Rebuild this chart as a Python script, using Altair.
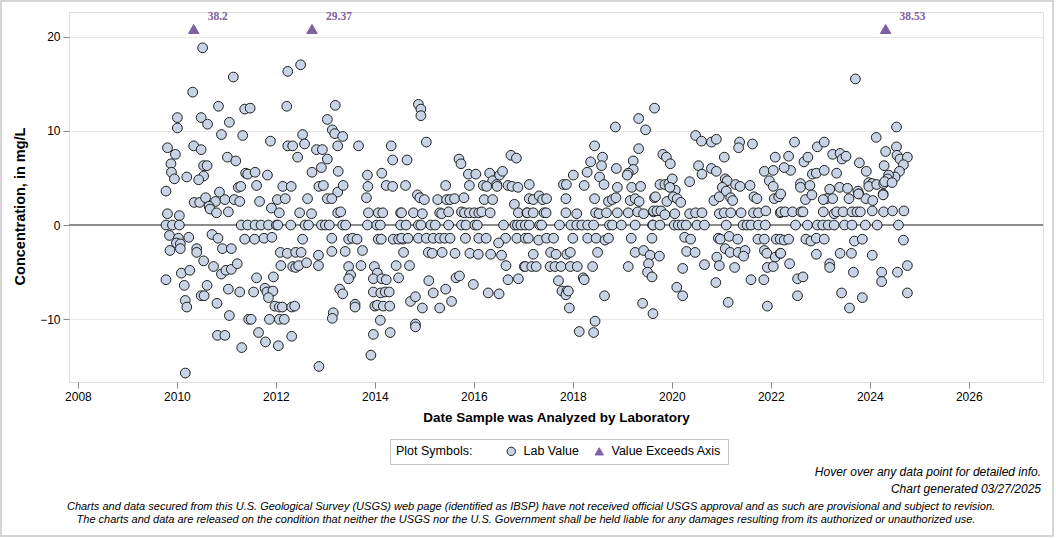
import altair as alt
import pandas as pd

# Lab results: [decimal year analyzed, concentration in mg/L]
LAB_2009_2011 = [
    [2010.52, 18.8], [2011.14, 15.7], [2010.32, 14.1], [2010.84, 12.6], [2011.37, 12.3], [2011.48, 12.4],
    [2010.01, 11.4], [2010.01, 10.3], [2010.49, 11.4], [2010.62, 10.7], [2011.06, 10.9], [2010.90, 9.6],
    [2011.33, 9.5], [2011.89, 8.9], [2009.81, 8.2], [2009.97, 7.5], [2010.34, 8.4], [2010.49, 8.0],
    [2009.88, 6.5], [2009.89, 5.6], [2009.95, 4.9], [2010.20, 5.1], [2010.54, 6.3], [2010.61, 6.3],
    [2010.54, 5.2], [2010.44, 4.8], [2011.02, 7.2], [2011.19, 6.8], [2011.39, 5.5], [2011.43, 5.4],
    [2011.58, 5.6], [2011.83, 5.3], [2009.78, 3.6], [2010.35, 2.4], [2010.46, 2.4], [2010.58, 2.9],
    [2010.78, 2.5], [2010.86, 3.5], [2010.97, 2.7], [2011.24, 4.0], [2011.29, 4.1], [2011.61, 4.2],
    [2011.16, 2.7], [2011.27, 2.5], [2011.67, 2.5], [2010.65, 2.0], [2010.67, 1.7], [2010.80, 1.3],
    [2011.04, 1.4], [2011.91, 1.8], [2009.81, 1.2], [2010.05, 1.0], [2009.78, 0.0], [2009.91, 0.0],
    [2010.05, 0.0], [2011.30, 0.0], [2011.43, 0.0], [2011.58, 0.0], [2011.70, 0.0], [2011.85, 0.0],
    [2012.01, 0.0], [2009.85, -1.1], [2010.03, -1.4], [2009.99, -1.9], [2010.07, -2.0], [2010.07, -2.5],
    [2009.86, -2.7], [2010.24, -1.3], [2010.71, -1.0], [2010.83, -1.4], [2010.40, -2.5], [2010.40, -2.9],
    [2010.92, -2.5], [2011.10, -2.5], [2011.37, -1.5], [2011.57, -1.5], [2011.76, -1.4], [2011.92, -1.3],
    [2010.54, -3.8], [2010.74, -4.4], [2010.90, -5.2], [2010.99, -4.8], [2011.10, -4.7], [2011.22, -4.1],
    [2010.09, -5.1], [2010.26, -4.8], [2009.78, -5.8], [2010.15, -6.4], [2010.61, -6.4], [2010.49, -7.5],
    [2010.55, -7.5], [2010.17, -8.0], [2010.20, -8.7], [2010.81, -8.3], [2011.04, -6.8], [2011.27, -7.1],
    [2011.61, -5.6], [2011.55, -7.1], [2011.78, -6.7], [2011.82, -7.1], [2011.94, -7.0], [2011.85, -7.7],
    [2011.95, -5.5], [2011.98, -8.6], [2011.06, -9.6], [2011.45, -10.0], [2011.50, -10.0], [2011.87, -10.0],
    [2010.82, -11.7], [2010.97, -11.7], [2011.65, -11.4], [2011.79, -12.4], [2011.31, -13.0], [2010.17, -15.7],
]

LAB_2012_2014 = [
    [2012.24, 16.3], [2012.50, 17.0], [2012.22, 12.6], [2013.20, 12.7], [2013.04, 11.2], [2013.14, 10.1],
    [2013.19, 9.7], [2013.35, 9.4], [2012.54, 9.6], [2012.24, 8.4], [2012.34, 8.4], [2012.58, 8.6],
    [2012.44, 7.2], [2012.82, 8.0], [2012.94, 8.0], [2013.04, 7.0], [2013.25, 8.4], [2013.67, 8.4],
    [2014.33, 8.4], [2014.36, 6.9], [2012.73, 5.6], [2012.92, 6.1], [2013.26, 5.7], [2013.85, 5.3],
    [2014.14, 5.5], [2012.14, 4.1], [2012.31, 4.1], [2012.87, 4.1], [2012.96, 4.2], [2013.25, 3.5],
    [2013.36, 4.2], [2013.86, 4.1], [2014.23, 4.2], [2014.36, 4.1], [2012.03, 2.7], [2012.19, 2.8],
    [2012.64, 2.8], [2013.04, 2.8], [2013.13, 2.8], [2013.83, 2.9], [2012.07, 1.3], [2012.48, 1.3],
    [2012.72, 1.2], [2013.25, 1.3], [2013.31, 1.4], [2013.87, 1.3], [2014.07, 1.3], [2014.16, 1.3],
    [2014.52, 1.3], [2012.04, 0.0], [2012.30, 0.0], [2012.59, 0.0], [2012.66, 0.0], [2012.92, 0.0],
    [2013.00, 0.0], [2013.08, 0.0], [2013.35, 0.0], [2013.41, 0.0], [2013.85, 0.0], [2014.04, 0.0],
    [2014.11, 0.0], [2014.52, 0.0], [2012.54, -1.5], [2013.13, -1.4], [2013.47, -1.5], [2013.55, -1.4],
    [2013.64, -1.5], [2014.07, -1.5], [2014.13, -1.5], [2014.37, -1.5], [2014.48, -1.5], [2014.57, -1.5],
    [2012.09, -2.9], [2012.23, -3.0], [2012.40, -2.9], [2012.51, -2.9], [2012.86, -3.2], [2013.13, -2.8],
    [2013.40, -2.8], [2013.75, -2.7], [2012.10, -4.3], [2012.34, -4.4], [2012.40, -4.5], [2012.46, -4.3],
    [2012.62, -4.0], [2012.86, -4.3], [2013.47, -4.4], [2013.72, -4.3], [2013.99, -4.4], [2014.43, -4.3],
    [2013.51, -5.3], [2013.47, -5.7], [2014.05, -5.1], [2013.97, -5.7], [2014.14, -5.7], [2014.23, -5.8],
    [2014.48, -5.6], [2013.29, -6.8], [2013.35, -7.3], [2013.97, -7.1], [2014.12, -7.2], [2014.21, -7.1],
    [2014.29, -7.1], [2013.60, -8.4], [2013.60, -8.7], [2014.00, -8.6], [2014.05, -8.5], [2014.17, -8.6],
    [2014.30, -8.6], [2013.16, -9.3], [2013.14, -9.9], [2012.07, -8.7], [2012.13, -8.7], [2012.32, -8.7],
    [2012.38, -8.6], [2012.07, -10.0], [2012.17, -10.0], [2014.11, -10.1], [2012.32, -11.8], [2012.05, -12.8],
    [2013.97, -11.6], [2014.31, -11.4], [2013.92, -13.8], [2012.87, -15.0],
]

LAB_2014_2016 = [
    [2014.88, 12.8], [2014.93, 12.3], [2014.93, 11.6], [2015.04, 8.8], [2014.65, 6.9], [2015.70, 7.0],
    [2015.74, 6.5], [2016.75, 7.4], [2016.86, 7.1], [2014.62, 4.2], [2014.86, 3.2], [2014.91, 2.9],
    [2015.00, 2.7], [2015.43, 4.2], [2015.89, 5.4], [2016.04, 5.4], [2016.32, 5.5], [2016.38, 4.7],
    [2016.52, 5.3], [2016.58, 5.7], [2015.91, 4.2], [2016.19, 4.2], [2016.26, 4.1], [2016.46, 4.3],
    [2016.47, 4.1], [2016.69, 4.2], [2016.77, 4.1], [2016.89, 4.0], [2015.27, 2.7], [2015.45, 2.7],
    [2015.52, 2.7], [2015.61, 2.8], [2015.80, 2.9], [2016.21, 2.7], [2016.38, 2.7], [2016.82, 2.2],
    [2014.54, 1.3], [2014.78, 1.3], [2014.96, 1.2], [2015.31, 1.3], [2015.35, 1.2], [2015.49, 1.4],
    [2015.75, 1.4], [2015.81, 1.3], [2015.91, 1.3], [2016.01, 1.3], [2016.10, 1.3], [2016.16, 1.4],
    [2016.33, 1.3], [2016.90, 1.3], [2017.07, 1.3], [2014.63, 0.0], [2014.88, 0.0], [2014.93, 0.0],
    [2015.13, 0.0], [2015.22, 0.0], [2015.49, 0.0], [2015.75, 0.0], [2015.84, 0.0], [2016.02, 0.0],
    [2016.07, 0.0], [2016.60, 0.0], [2016.83, 0.0], [2016.88, 0.0], [2016.95, 0.0], [2017.04, 0.0],
    [2014.54, -1.4], [2014.67, -1.4], [2014.88, -1.4], [2015.04, -1.4], [2015.18, -1.4], [2015.31, -1.4],
    [2015.41, -1.4], [2015.52, -1.4], [2015.83, -1.4], [2016.10, -1.4], [2016.25, -1.4], [2016.64, -1.4],
    [2016.87, -1.4], [2017.04, -1.4], [2016.50, -1.9], [2014.58, -2.9], [2015.08, -2.9], [2015.16, -3.0],
    [2015.36, -2.9], [2015.62, -3.0], [2015.92, -3.0], [2016.09, -3.1], [2016.34, -3.1], [2016.56, -3.2],
    [2014.70, -4.3], [2016.65, -4.3], [2017.02, -4.4], [2015.09, -5.9], [2015.64, -5.6], [2015.71, -5.4],
    [2015.99, -6.3], [2016.69, -5.8], [2016.90, -5.7], [2015.18, -7.2], [2015.43, -6.8], [2015.55, -8.1],
    [2016.29, -7.2], [2016.51, -7.3], [2014.72, -8.1], [2014.82, -7.6], [2014.96, -8.8], [2015.31, -8.8],
    [2014.82, -10.5], [2014.82, -10.8],
]

LAB_2017_2019 = [
    [2019.65, 12.4], [2019.33, 11.3], [2019.47, 10.1], [2018.86, 10.4], [2018.44, 8.4], [2019.33, 8.1],
    [2018.60, 7.2], [2018.58, 6.3], [2018.88, 6.0], [2018.36, 6.7], [2018.29, 5.6], [2018.54, 5.1],
    [2019.22, 6.8], [2019.22, 5.9], [2019.12, 5.5], [2019.10, 5.3], [2018.01, 5.3], [2017.81, 4.3],
    [2017.87, 4.3], [2018.23, 4.2], [2018.63, 4.3], [2018.90, 4.0], [2019.19, 4.0], [2019.37, 4.1],
    [2017.12, 4.3], [2017.12, 2.8], [2017.20, 2.7], [2017.32, 3.1], [2017.39, 2.7], [2017.47, 2.8],
    [2017.86, 2.8], [2018.44, 2.8], [2018.72, 2.5], [2018.80, 2.7], [2018.87, 2.9], [2019.16, 2.6],
    [2019.26, 2.8], [2019.34, 2.5], [2019.65, 2.9], [2017.08, 1.3], [2017.20, 1.3], [2017.42, 1.3],
    [2017.46, 1.3], [2017.86, 1.3], [2018.08, 1.2], [2018.46, 1.3], [2018.53, 1.2], [2018.68, 1.3],
    [2018.90, 1.3], [2019.12, 1.3], [2019.31, 1.4], [2019.43, 1.2], [2019.63, 1.4], [2017.12, 0.0],
    [2017.33, 0.0], [2017.37, 0.0], [2017.73, 0.0], [2017.96, 0.0], [2018.08, 0.0], [2018.18, 0.0],
    [2018.30, 0.0], [2018.42, 0.0], [2018.74, 0.0], [2018.80, 0.0], [2018.98, 0.0], [2019.26, 0.0],
    [2019.61, 0.0], [2017.10, -1.4], [2017.31, -1.6], [2017.47, -1.4], [2017.61, -1.4], [2018.00, -1.4],
    [2018.30, -1.4], [2018.47, -1.4], [2018.65, -1.6], [2018.72, -1.4], [2019.18, -1.4], [2019.60, -1.4],
    [2017.20, -3.1], [2017.55, -2.9], [2017.66, -3.1], [2017.88, -3.1], [2017.95, -2.9], [2018.50, -2.9],
    [2019.26, -2.9], [2019.43, -2.7], [2019.56, -3.2], [2017.04, -4.4], [2017.17, -4.4], [2017.26, -4.4],
    [2017.54, -4.4], [2017.64, -4.4], [2017.76, -4.4], [2017.95, -4.4], [2018.09, -4.4], [2018.40, -4.4],
    [2019.12, -4.4], [2019.53, -4.1], [2019.51, -5.0], [2019.60, -5.5], [2017.71, -5.9], [2018.21, -5.6],
    [2018.23, -5.8], [2017.78, -7.0], [2017.88, -7.0], [2017.86, -7.4], [2017.91, -7.0], [2018.64, -7.5],
    [2019.41, -8.3], [2019.62, -9.4], [2017.93, -8.8], [2018.45, -10.2], [2018.13, -11.3], [2018.42, -11.4],
]

LAB_2019_2022 = [
    [2020.48, 9.5], [2020.60, 8.9], [2020.80, 8.8], [2020.90, 9.1], [2021.37, 8.8], [2021.35, 8.2],
    [2021.63, 8.6], [2022.09, 7.2], [2019.82, 7.5], [2019.89, 7.2], [2019.97, 6.5], [2020.54, 6.3],
    [2020.61, 5.4], [2020.80, 6.0], [2020.90, 5.7], [2021.06, 7.2], [2021.08, 4.9], [2021.12, 4.7],
    [2021.29, 4.3], [2021.38, 4.1], [2021.58, 4.2], [2021.87, 5.7], [2022.05, 5.8], [2021.97, 4.7],
    [2022.05, 4.1], [2020.36, 4.6], [2019.76, 4.3], [2019.86, 4.3], [2019.94, 4.4], [2020.01, 4.9],
    [2020.07, 3.7], [2019.96, 4.0], [2019.67, 3.0], [2019.90, 2.5], [2020.03, 3.0], [2020.11, 2.8],
    [2020.18, 2.4], [2020.85, 2.6], [2020.96, 3.0], [2021.02, 4.0], [2021.10, 3.6], [2021.19, 2.9],
    [2021.23, 2.6], [2021.66, 3.0], [2021.72, 2.8], [2022.07, 2.8], [2022.16, 3.0], [2019.63, 1.5],
    [2019.70, 1.5], [2019.78, 1.5], [2019.86, 1.1], [2020.06, 1.2], [2020.36, 1.2], [2020.48, 1.3],
    [2020.61, 1.3], [2020.96, 1.2], [2021.06, 1.3], [2021.19, 1.3], [2021.40, 1.3], [2021.65, 1.3],
    [2021.75, 1.3], [2021.90, 1.5], [2022.19, 1.3], [2019.62, 0.0], [2019.76, 0.0], [2020.05, 0.0],
    [2020.13, 0.0], [2020.21, 0.0], [2020.29, 0.0], [2020.51, 0.0], [2020.66, 0.0], [2021.10, 0.0],
    [2021.44, 0.0], [2021.52, 0.0], [2021.60, 0.0], [2021.75, 0.0], [2021.89, 0.0], [2020.26, -1.3],
    [2020.38, -1.5], [2020.94, -1.4], [2020.98, -1.5], [2021.16, -1.2], [2021.33, -1.5], [2021.74, -1.5],
    [2021.87, -1.5], [2022.11, -1.5], [2020.30, -2.8], [2020.47, -2.9], [2021.08, -2.5], [2021.18, -2.9],
    [2021.34, -2.9], [2021.48, -2.7], [2021.45, -3.3], [2021.87, -2.7], [2021.92, -3.0], [2022.09, -3.4],
    [2022.19, -3.0], [2020.91, -3.4], [2020.96, -4.3], [2021.27, -4.5], [2020.66, -4.2], [2020.22, -4.6],
    [2019.75, -3.3], [2021.93, -4.5], [2022.05, -4.4], [2020.10, -6.6], [2020.22, -7.5], [2020.89, -6.1],
    [2021.60, -5.8], [2021.86, -5.8], [2021.14, -8.2], [2021.93, -8.6],
]

LAB_2022_2024 = [
    [2023.71, 15.5], [2024.54, 10.4], [2024.13, 9.3], [2022.48, 8.8], [2022.94, 8.3], [2023.08, 8.8],
    [2022.36, 7.3], [2022.67, 6.7], [2022.75, 7.2], [2023.25, 7.5], [2023.40, 7.6], [2023.44, 7.0],
    [2023.52, 7.3], [2024.32, 7.8], [2024.54, 8.3], [2024.55, 7.4], [2024.61, 7.0], [2024.76, 7.2],
    [2024.68, 6.4], [2023.79, 6.6], [2024.29, 6.3], [2023.93, 5.7], [2024.60, 5.7], [2024.51, 5.1],
    [2024.38, 5.3], [2024.36, 4.9], [2022.40, 5.8], [2022.84, 5.4], [2022.92, 5.5], [2023.08, 5.8],
    [2023.33, 5.5], [2022.27, 6.1], [2022.60, 4.4], [2022.60, 4.0], [2022.79, 4.2], [2023.19, 3.8],
    [2023.39, 4.0], [2023.55, 3.9], [2023.76, 3.6], [2023.78, 3.3], [2023.98, 4.5], [2024.05, 4.4],
    [2023.98, 4.1], [2024.14, 4.3], [2024.28, 4.4], [2024.30, 4.6], [2024.45, 4.5], [2024.27, 3.3],
    [2023.13, 2.8], [2023.25, 2.8], [2023.58, 2.8], [2023.92, 2.8], [2024.06, 2.6], [2022.70, 2.7],
    [2022.83, 3.2], [2022.20, 3.3], [2023.06, 2.7], [2023.77, 3.3], [2024.27, 3.2], [2022.21, 1.4],
    [2022.29, 1.4], [2022.44, 1.4], [2022.61, 1.4], [2022.65, 1.4], [2023.06, 1.4], [2023.28, 1.2],
    [2023.33, 1.4], [2023.46, 1.4], [2023.64, 1.4], [2023.74, 1.4], [2023.81, 1.4], [2024.05, 1.5],
    [2024.28, 1.4], [2024.46, 1.5], [2024.69, 1.5], [2022.50, 0.0], [2022.74, 0.0], [2022.94, 0.0],
    [2023.05, 0.0], [2023.16, 0.0], [2023.28, 0.0], [2023.49, 0.0], [2023.64, 0.0], [2023.91, 0.0],
    [2024.15, 0.0], [2024.58, 0.0], [2022.19, -1.5], [2022.27, -1.6], [2022.36, -1.5], [2022.71, -1.5],
    [2022.81, -1.7], [2022.92, -1.4], [2023.08, -1.5], [2023.69, -1.7], [2023.85, -1.5], [2024.68, -1.6],
    [2022.20, -3.0], [2022.92, -3.1], [2023.40, -3.0], [2023.63, -3.0], [2024.05, -3.2], [2022.38, -4.1],
    [2023.19, -4.1], [2023.19, -4.5], [2023.67, -5.0], [2024.24, -5.0], [2024.24, -6.0], [2024.56, -5.0],
    [2024.76, -4.3], [2022.54, -5.7], [2022.65, -5.5], [2022.54, -7.5], [2023.43, -7.2], [2023.85, -7.7],
    [2023.59, -8.8], [2024.76, -7.2],
]

# Results above the top of the axis, pinned to the axis ceiling and labelled
EXCEED_YEARS = [2010.34, 2012.73, 2024.32]
EXCEED_VALUES = [38.2, 29.37, 38.53]
AXIS_CEILING = 20.8

X_TICKS = list(range(2008, 2027, 2))
Y_TICKS = [-10, 0, 10, 20]

FONT = "Liberation Sans"
PURPLE = "#7e63a3"
FILL = "#c8d4e5"

rows = LAB_2009_2011 + LAB_2012_2014 + LAB_2014_2016 + LAB_2017_2019 + LAB_2019_2022 + LAB_2022_2024
lab = pd.DataFrame(rows, columns=["year", "value"])
lab["symbol"] = "Lab Value"
exceed = pd.DataFrame({"year": EXCEED_YEARS, "value": EXCEED_VALUES})
exceed["symbol"] = "Value Exceeds Axis"

x_scale = alt.Scale(domain=[2007.82, 2027.5], nice=False, zero=False)
y_scale = alt.Scale(domain=[-16.65, 22.6], nice=False, zero=False)

symbols = ["Lab Value", "Value Exceeds Axis"]
legend = alt.Legend(
    orient="none", legendX=321, legendY=427, direction="horizontal",
    title="Plot Symbols:", titleOrient="left", titleFontWeight="normal",
    titleFontSize=12.5, titleFont=FONT, titleColor="#000", titlePadding=32,
    labelFontSize=12.5, labelFont=FONT, labelColor="#000", labelOffset=6,
    symbolSize=70, symbolStrokeWidth=1, columnPadding=14,
    strokeColor="#c4c4c4", padding=6,
)
fill_enc = alt.Fill("symbol:N", scale=alt.Scale(domain=symbols, range=[FILL, PURPLE]), legend=legend)
stroke_enc = alt.Stroke("symbol:N", scale=alt.Scale(domain=symbols, range=["#1e1e1e", PURPLE]), legend=legend)
shape_enc = alt.Shape("symbol:N", scale=alt.Scale(domain=symbols, range=["circle", "triangle-up"]), legend=legend)

x_enc = alt.X(
    "year:Q", scale=x_scale,
    axis=alt.Axis(
        values=X_TICKS, format="d", grid=False, domain=False, tickSize=6, tickColor="#888",
        labelFontSize=12, labelPadding=3, labelColor="#000", labelFont=FONT,
        title="Date Sample was Analyzed by Laboratory", titleFontSize=13.5, titleFont=FONT,
        titleFontWeight="bold", titleColor="#000", titlePadding=8,
    ),
)
y_axis = alt.Axis(
    values=Y_TICKS, grid=True, gridColor="#e8e8e8", gridWidth=1, domain=False, tickSize=6,
    tickColor="#888", labelFontSize=12, labelPadding=3, labelColor="#000", labelFont=FONT,
    title="Concentration, in mg/L", titleFontSize=14.5, titleFont=FONT, titleFontWeight="bold",
    titleColor="#000", titlePadding=12, titleY=194,
)

zero_line = alt.Chart(pd.DataFrame({"v": [0]})).mark_rule(color="#8c8c8c", strokeWidth=2).encode(
    y=alt.Y("v:Q", scale=y_scale, axis=y_axis)
)

points = alt.Chart(lab).mark_point(filled=True, size=95, opacity=1, strokeWidth=1).encode(
    x=x_enc,
    y=alt.Y("value:Q", scale=y_scale, axis=y_axis),
    fill=fill_enc, stroke=stroke_enc, shape=shape_enc,
)

exceed_base = alt.Chart(exceed).transform_calculate(
    shown=f"min(datum.value, {AXIS_CEILING})"
)
triangles = exceed_base.mark_point(filled=True, size=110, opacity=1, strokeWidth=1).encode(
    x=alt.X("year:Q", scale=x_scale),
    y=alt.Y("shown:Q", scale=y_scale),
    fill=fill_enc, stroke=stroke_enc, shape=shape_enc,
)
triangle_labels = exceed_base.mark_text(
    align="left", baseline="middle", dx=14, dy=-12, font="Liberation Serif",
    fontWeight="bold", fontSize=11.5, color=PURPLE,
).encode(
    x=alt.X("year:Q", scale=x_scale),
    y=alt.Y("shown:Q", scale=y_scale),
    text=alt.Text("value:Q", format="~g"),
)

one = pd.DataFrame({"k": [0]})
notes = [
    ("Hover over any data point for detailed info.", 972, 460, "right", 12),
    ("Chart generated 03/27/2025", 972, 477, "right", 12),
    ("Charts and data secured from this U.S. Geological Survey (USGS) web page (identified as IBSP) "
     "have not received official USGS approval and as such are provisional and subject to revision.",
     462, 495, "center", 11),
    ("The charts and data are released on the condition that neither the USGS nor the U.S. Government "
     "shall be held liable for any damages resulting from its authorized or unauthorized use.",
     457, 508, "center", 11),
]
note_layers = [
    alt.Chart(one).mark_text(
        text=t, align=a, baseline="middle", font=FONT, fontStyle="italic", fontSize=fs, color="#000"
    ).encode(x=alt.value(x), y=alt.value(y))
    for t, x, y, a, fs in notes
]

outer_border = alt.Chart(one).mark_rect(fill=None, stroke="#c8c8c8", strokeWidth=1.5).encode(
    x=alt.value(-68), x2=alt.value(984), y=alt.value(-11), y2=alt.value(524)
)

chart = alt.layer(
    zero_line, points, triangles, triangle_labels, *note_layers, outer_border
).resolve_scale(
    fill="shared", stroke="shared", shape="shared"
).properties(
    width=974, height=370,
    autosize=alt.AutoSizeParams(type="none"),
    padding={"left": 69, "top": 12, "right": 13, "bottom": 156},
).configure_view(
    stroke="#9a9a9a", strokeWidth=1
).configure(
    background="white"
)

chart.save("out.html", embed_options={"renderer": "svg", "actions": False})
